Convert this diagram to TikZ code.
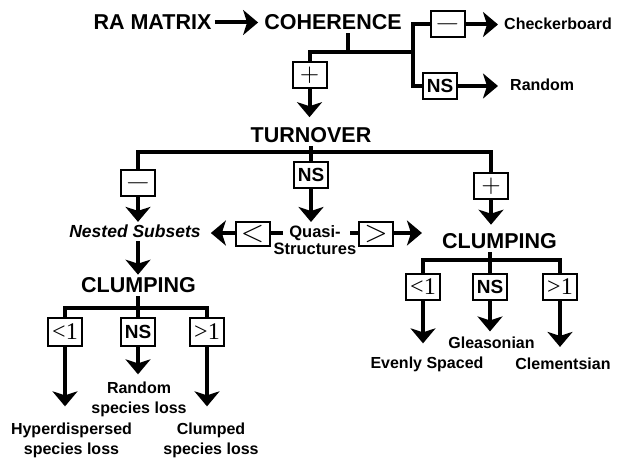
\documentclass[tikz,border=0pt]{standalone}
\usepackage{fontspec}
\setmainfont{Liberation Sans}
\newfontfamily\numfont{Liberation Serif}
\usetikzlibrary{arrows.meta,positioning,calc}

\tikzset{
  head/.style={font=\fontsize{21.5}{24}\selectfont\bfseries, inner sep=3pt},
  leaf/.style={font=\fontsize{16}{20}\selectfont\bfseries, align=center, inner sep=3pt},
  sign/.style={draw, line width=2pt, minimum width=34pt, minimum height=26pt, inner sep=1pt},
  trunk/.style={line width=4pt},
  flow/.style={line width=4pt, -{Stealth[length=15pt,width=25pt,inset=4pt]}},
}
\newcommand{\sgnplus}{\scalebox{2.5}{$+$}}
\newcommand{\sgnminus}{\scalebox{3.3}[2.5]{$-$}}
\newcommand{\sgnlt}{\scalebox{3}{$<$}}
\newcommand{\sgngt}{\scalebox{3}{$>$}}
\newcommand{\sgnns}{\fontsize{19}{19}\selectfont\bfseries NS}
\newcommand{\sgnlone}{\numfont\fontsize{24}{24}\selectfont <1}
\newcommand{\sgngone}{\numfont\fontsize{24}{24}\selectfont >1}

\begin{document}
\begin{tikzpicture}[x=1pt, y=-1pt]
    \useasboundingbox (0,0) rectangle (617,460);

    % Coherence
    \node[head] (ra) at (152.5,22.5) {RA MATRIX};
    \node[head] (coh) at (333,22.5) {COHERENCE};
    \node[sign] (cohplus) at (309.5,75) {\sgnplus};
    \node[sign] (cohminus) at (447.5,24.5) {\sgnminus};
    \node[sign] (cohns) at (440,86) {\sgnns};
    \node[leaf, anchor=west] (check) at (501,24) {Checkerboard};
    \node[leaf, anchor=west] (rand) at (507,85) {Random};
    \coordinate (cohfork) at (348,52);
    \coordinate (cohsplit) at (413,52);

    \draw[flow, shorten >=3pt] (ra) -- (coh);
    \draw[trunk] (coh.south -| cohfork) -- (cohfork);
    \draw[trunk] (cohplus.north) |- (cohsplit);
    \draw[trunk] (cohminus.west) -| (cohsplit) |- (cohns.west);
    \draw[flow, shorten >=3pt] (cohminus.east) -- (cohminus.east -| check.west);
    \draw[flow, shorten >=9pt] (cohns.east) -- (cohns.east -| rand.west);

    % Turnover
    \node[head] (turn) at (311,135) {TURNOVER};
    \node[sign] (tminus) at (138,183) {\sgnminus};
    \node[sign] (tns) at (311,175) {\sgnns};
    \node[sign] (tplus) at (491,186) {\sgnplus};
    \coordinate (turnfork) at (311,152);

    \draw[flow, shorten >=7pt] (cohplus.south) -- (cohplus.south |- turn.north);
    \draw[trunk] (turn.south) -- (tns.north);
    \draw[trunk] (tminus.north) |- (tplus.north |- turnfork) -- (tplus.north);

    % Middle row
    \node[leaf, font=\fontsize{17.5}{20}\selectfont\bfseries\itshape] (nested) at (135,231.5) {Nested Subsets};
    \node[leaf, font=\fontsize{16.5}{17.5}\selectfont\bfseries] (quasi) at (315,240) {Quasi-\\Structures};
    \node[sign, minimum height=24pt] (qless) at (252.5,234) {\sgnlt};
    \node[sign, minimum height=24pt] (qmore) at (376,234) {\sgngt};
    \node[head] (clumpR) at (499.5,241.5) {CLUMPING};
    \coordinate (qL) at (283,233);
    \coordinate (qR) at (350,233);

    \draw[flow] (tminus.south) -- (tminus.south |- nested.north);
    \draw[flow] (tns.south) -- (tns.south |- quasi.north);
    \draw[flow, shorten >=6pt] (tplus.south) -- (tplus.south |- clumpR.north);
    \draw[trunk] (qL) -- (qless.east |- qL);
    \draw[flow, shorten >=7pt] (qless.west |- qL) -- (qL -| nested.east);
    \draw[trunk] (qR) -- (qmore.west |- qR);
    \draw[flow, shorten >=17pt] (qmore.east |- qR) -- (qR -| clumpR.west);

    % Left clumping
    \node[head] (clumpL) at (138.5,285.5) {CLUMPING};
    \node[sign, minimum height=28pt] (llt) at (65,332) {\sgnlone};
    \node[sign, minimum height=28pt] (lns) at (138,332) {\sgnns};
    \node[sign, minimum height=28pt] (lgt) at (207,332) {\sgngone};
    \node[leaf] (lrand) at (139,399) {Random\\species loss};
    \node[leaf] (lhyp) at (71.5,440) {Hyperdispersed\\species loss};
    \node[leaf] (lclump) at (211,440) {Clumped\\species loss};
    \coordinate (lfork) at (138,308);

    \draw[flow] (lns |- nested.south) -- (lns |- clumpL.north);
    \draw[trunk] (clumpL.south -| lns.north) -- (lns.north);
    \draw[trunk] (llt.north) |- (lgt.north |- lfork) -- (lgt.north);
    \draw[flow, shorten >=13pt] (llt.south) -- (llt.south |- lhyp.north);
    \draw[flow, shorten >=4pt] (lns.south) -- (lns.south |- lrand.north);
    \draw[flow, shorten >=13pt] (lgt.south) -- (lgt.south |- lclump.north);

    % Right clumping
    \node[sign] (rlt) at (423,286.5) {\sgnlone};
    \node[sign] (rns) at (490,286.5) {\sgnns};
    \node[sign] (rgt) at (560,286.5) {\sgngone};
    \node[leaf] (glea) at (491.5,342.5) {Gleasonian};
    \node[leaf] (even) at (427,364) {Evenly Spaced};
    \node[leaf] (clem) at (563,364) {Clementsian};
    \coordinate (rfork) at (490,260);

    \draw[trunk] (clumpR.south -| rns.north) -- (rns.north);
    \draw[trunk] (rlt.north) |- (rgt.north |- rfork) -- (rgt.north);
    \draw[flow, shorten >=10pt] (rlt.south) -- (rlt.south |- even.north);
    \draw[flow, shorten >=2pt] (rns.south) -- (rns.south |- glea.north);
    \draw[flow, shorten >=8pt] (rgt.south) -- (rgt.south |- clem.north);
\end{tikzpicture}
\end{document}
